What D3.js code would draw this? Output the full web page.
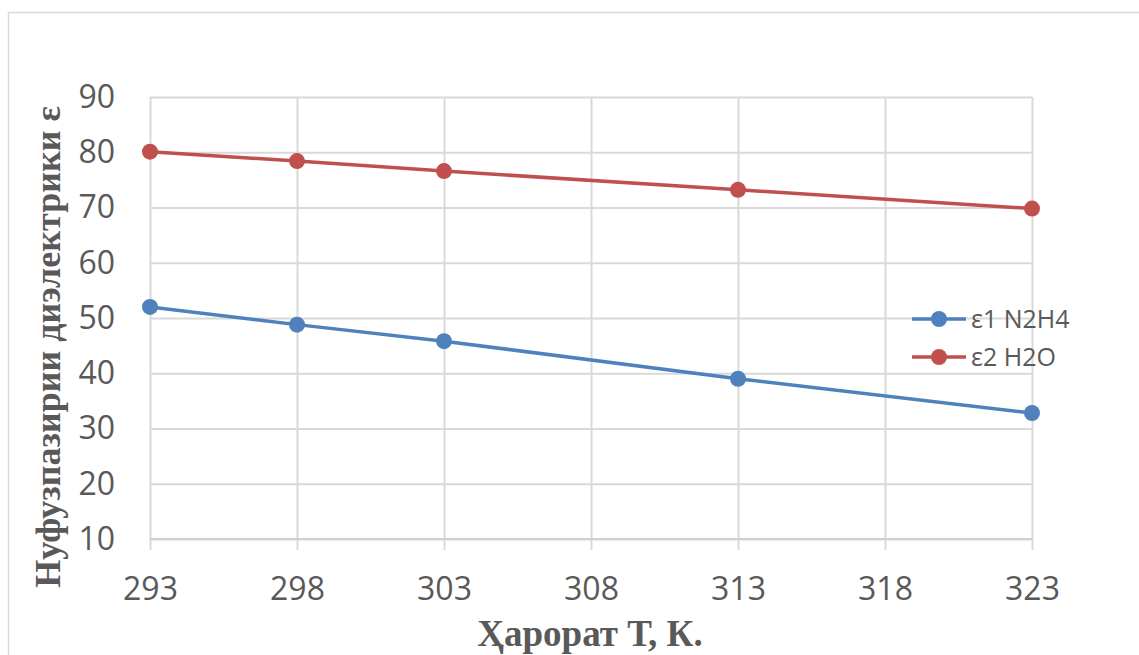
<!DOCTYPE html>
<html>
<head>
<meta charset="utf-8">
<script src="https://cdn.jsdelivr.net/npm/d3@7"></script>
<style>
  html, body { margin: 0; padding: 0; background: #fff; }
  svg { display: block; }
</style>
</head>
<body>
<svg id="chart" width="1139" height="655"></svg>
<script>
// Temperature (K) and dielectric permittivity of hydrazine and water
const temperatures = [293, 298, 303, 313, 323];
const epsN2H4 = [52.0, 48.8, 45.8, 39.0, 32.8];
const epsH2O = [80.1, 78.4, 76.6, 73.2, 69.8];
const seriesNames = ["ε1 N2H4", "ε2 H2O"];
const seriesColors = ["#4f81bd", "#c0504d"];
const xTicks = [293, 298, 303, 308, 313, 318, 323];
const yTicks = [10, 20, 30, 40, 50, 60, 70, 80, 90];

const svg = d3.select("#chart");
const W = 1139, H = 655;
const plotLeft = 150, plotRight = 1032, plotTop = 97, plotBottom = 539;
const labelFont = "'Open Sans', 'Liberation Sans', sans-serif";
const titleFont = "'Liberation Serif', 'DejaVu Serif', serif";
const textColor = "#595959";
const gridColor = "#d9d9d9";

// chart frame
svg.append("rect")
  .attr("x", 8.5).attr("y", 12.5)
  .attr("width", W + 20).attr("height", H + 20)
  .attr("fill", "#fff").attr("stroke", "#d9d9d9").attr("stroke-width", 1.5);

const x = d3.scaleLinear().domain([293, 323]).range([plotLeft, plotRight]);
const y = d3.scaleLinear().domain([10, 90]).range([plotBottom, plotTop]);

// horizontal gridlines + y labels
const yAxis = d3.axisLeft(y).tickValues(yTicks).tickSize(-(plotRight - plotLeft)).tickPadding(35);
const gy = svg.append("g").attr("transform", `translate(${plotLeft},0)`).call(yAxis);
gy.select(".domain").remove();
gy.selectAll(".tick line").attr("stroke", gridColor).attr("stroke-width", 2);
gy.selectAll(".tick text")
  .attr("font-family", labelFont).attr("font-size", 32).attr("fill", textColor);

// vertical gridlines + x labels
const xAxis = d3.axisBottom(x).tickValues(xTicks).tickFormat(d3.format("d"))
  .tickSize(-(plotBottom - plotTop)).tickPadding(0);
const gx = svg.append("g").attr("transform", `translate(0,${plotBottom})`).call(xAxis);
gx.select(".domain").remove();
gx.selectAll(".tick line").attr("stroke", gridColor).attr("stroke-width", 2)
  .attr("y2", -(plotBottom - plotTop)).attr("y1", 11);
gx.selectAll(".tick text")
  .attr("font-family", labelFont).attr("font-size", 32).attr("fill", textColor)
  .attr("dy", null).attr("y", 61);

// bottom axis line
svg.append("line")
  .attr("x1", plotLeft).attr("x2", plotRight).attr("y1", plotBottom).attr("y2", plotBottom)
  .attr("stroke", "#cfcfcf").attr("stroke-width", 2);

// series
const allSeries = [epsN2H4, epsH2O];
const line = d3.line().x((d, i) => x(temperatures[i])).y(d => y(d));
allSeries.forEach((vals, s) => {
  svg.append("path").datum(vals)
    .attr("d", line).attr("fill", "none")
    .attr("stroke", seriesColors[s]).attr("stroke-width", 3.5);
  svg.append("g").selectAll("circle").data(vals).join("circle")
    .attr("cx", (d, i) => x(temperatures[i])).attr("cy", d => y(d))
    .attr("r", 8).attr("fill", seriesColors[s]);
});

// legend
const legend = svg.append("g");
seriesNames.forEach((name, s) => {
  const ly = 319 + s * 38;
  legend.append("line").attr("x1", 912).attr("x2", 966).attr("y1", ly).attr("y2", ly)
    .attr("stroke", seriesColors[s]).attr("stroke-width", 3.5);
  legend.append("circle").attr("cx", 939).attr("cy", ly).attr("r", 8).attr("fill", seriesColors[s]);
  legend.append("text").attr("x", 971).attr("y", ly).attr("dy", "0.36em")
    .attr("font-family", labelFont).attr("font-size", 25).attr("fill", textColor)
    .text(name);
});

// axis titles
svg.append("text")
  .attr("transform", `translate(60,347) rotate(-90)`)
  .attr("text-anchor", "middle")
  .attr("font-family", titleFont).attr("font-weight", "bold").attr("font-size", 36)
  .attr("fill", textColor)
  .text("Нуфузпазирии диэлектрики ε");

svg.append("text")
  .attr("x", 590).attr("y", 646)
  .attr("text-anchor", "middle")
  .attr("font-family", titleFont).attr("font-weight", "bold").attr("font-size", 37)
  .attr("fill", textColor)
  .text("Ҳарорат Т, К.");
</script>
</body>
</html>
